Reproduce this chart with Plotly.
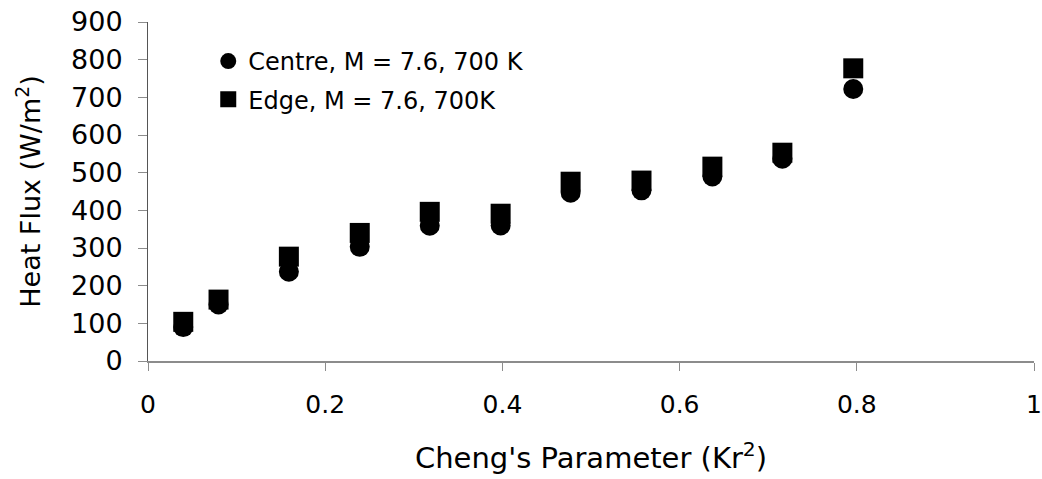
import plotly.graph_objects as go

# Cheng's parameter (Kr^2) for each measurement station
cheng_param = [0.0398, 0.0796, 0.159, 0.239, 0.318, 0.398, 0.477, 0.557, 0.637, 0.716, 0.796]

# Heat flux (W/m^2) at the centre and at the edge
centre_flux = [90, 150, 237, 303, 359, 360, 447, 453, 490, 537, 722]
edge_flux = [104, 163, 277, 340, 396, 391, 476, 479, 516, 553, 777]

series_names = ["Centre, M = 7.6, 700 K", "Edge, M = 7.6, 700K"]

x_ticks = [0, 0.2, 0.4, 0.6, 0.8, 1]
x_tick_text = ["0", "0.2", "0.4", "0.6", "0.8", "1"]
y_ticks = [0, 100, 200, 300, 400, 500, 600, 700, 800, 900]

FONT = "DejaVu Sans"
AXIS_GREY = "#8c8c8c"

fig = go.Figure()
fig.add_trace(go.Scatter(
    x=cheng_param, y=centre_flux, mode="markers", name=series_names[0],
    legendgroup="c",
    marker=dict(symbol="circle", size=20, color="black", line=dict(width=0)),
))
fig.add_trace(go.Scatter(
    x=cheng_param, y=edge_flux, mode="markers", name=series_names[1],
    legendgroup="e",
    marker=dict(symbol="square", size=20, color="black", line=dict(width=0)),
))

fig.update_layout(
    width=1042, height=479,
    margin=dict(l=148, r=8, t=22, b=118, autoexpand=False),
    paper_bgcolor="white", plot_bgcolor="white",
    font=dict(family=FONT, color="black"),
    showlegend=True,
    legend=dict(
        x=0.068, y=0.95, xanchor="left", yanchor="top",
        bgcolor="rgba(0,0,0,0)", font=dict(family=FONT, size=24, color="black"),
        traceorder="grouped", tracegroupgap=4, itemwidth=30,
    ),
    xaxis=dict(
        range=[0, 1], tickvals=x_ticks, ticktext=x_tick_text,
        showgrid=False, zeroline=False, automargin=False,
        showline=True, linecolor=AXIS_GREY, linewidth=2,
        ticks="outside", ticklen=8, tickcolor=AXIS_GREY, tickwidth=1,
        ticklabelstandoff=12,
        tickfont=dict(family=FONT, size=25, color="black"),
        title=dict(text="Cheng's Parameter (Kr<sup>2</sup>)",
                   font=dict(family=FONT, size=29, color="black"), standoff=30),
    ),
    yaxis=dict(
        range=[0, 900], tickvals=y_ticks,
        showgrid=False, zeroline=False, automargin=False,
        showline=True, linecolor="#555555", linewidth=1,
        ticks="outside", ticklen=9, tickcolor=AXIS_GREY, tickwidth=1,
        ticklabelstandoff=10,
        tickfont=dict(family=FONT, size=27, color="black"),
        title=dict(text="Heat Flux (W/m<sup>2</sup>)",
                   font=dict(family=FONT, size=27, color="black"), standoff=22),
    ),
)

fig.write_html("out.html")
